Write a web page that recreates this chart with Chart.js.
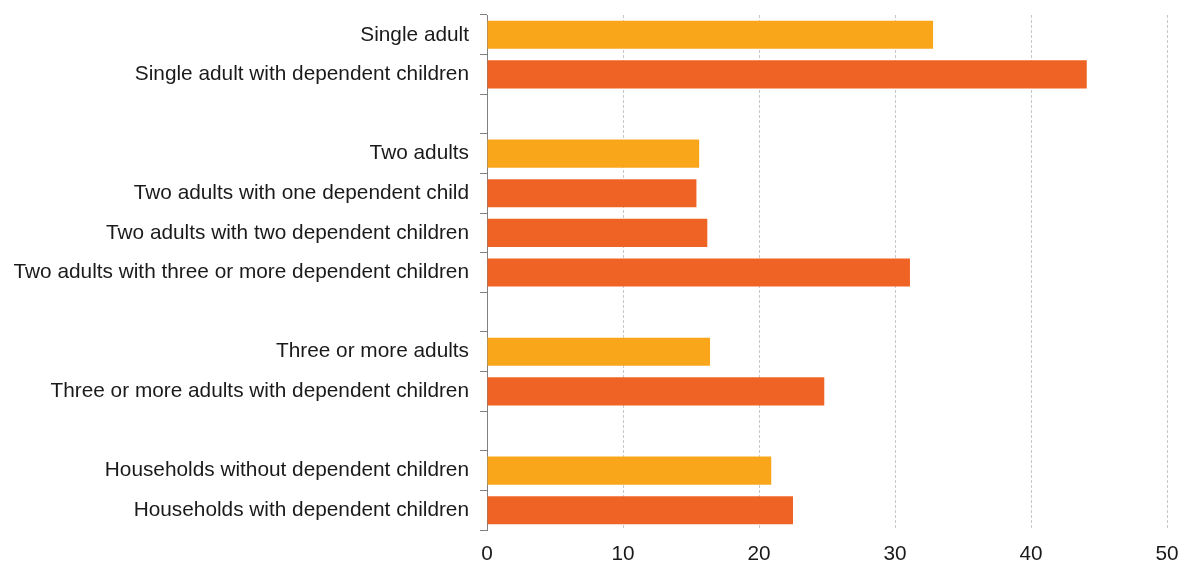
<!DOCTYPE html>
<html>
<head>
<meta charset="utf-8">
<script src="https://cdn.jsdelivr.net/npm/chart.js@4"></script>
<style>
html,body{margin:0;padding:0;background:#fff;}
#wrap{width:1181px;height:563px;position:relative;}
</style>
</head>
<body>
<div id="wrap"><canvas id="c" width="1181" height="563"></canvas></div>
<script>
const categories = [
  "Single adult",
  "Single adult with dependent children",
  "",
  "Two adults",
  "Two adults with one dependent child",
  "Two adults with two dependent children",
  "Two adults with three or more dependent children",
  "",
  "Three or more adults",
  "Three or more adults with dependent children",
  "",
  "Households without dependent children",
  "Households with dependent children"
];
const withoutChildren = [32.8, null, null, 15.6, null, null, null, null, 16.4, null, null, 20.9, null];
const withChildren    = [null, 44.1, null, null, 15.4, 16.2, 31.1, null, null, 24.8, null, null, 22.5];
const xTicks = [0, 10, 20, 30, 40, 50];

const FONT = "'Liberation Sans', Arial, sans-serif";
new Chart(document.getElementById('c'), {
  type: 'bar',
  data: {
    labels: categories,
    datasets: [
      { label: 'Without dependent children', data: withoutChildren, backgroundColor: '#F9A61B', borderWidth: 0, categoryPercentage: 0.71, barPercentage: 1 },
      { label: 'With dependent children', data: withChildren, backgroundColor: '#EF6424', borderWidth: 0, categoryPercentage: 0.71, barPercentage: 1 }
    ]
  },
  options: {
    indexAxis: 'y',
    responsive: false,
    animation: false,
    devicePixelRatio: 1,
    layout: { padding: { top: 15, right: 14, left: 0, bottom: 0 } },
    plugins: { legend: { display: false }, tooltip: { enabled: false } },
    scales: {
      x: {
        min: 0, max: 50,
        stacked: true,
        afterBuildTicks: s => { s.ticks = xTicks.map(v => ({ value: v })); },
        afterFit: s => { s.height = 33; s.paddingLeft = 0; s.paddingRight = 0; s.paddingTop = 0; s.paddingBottom = 0; },
        grid: {
          color: ctx => ctx.tick && ctx.tick.value === 0 ? 'rgba(0,0,0,0)' : '#c8c8c8',
          lineWidth: 1,
          drawTicks: false
        },
        border: { display: false, dash: [3, 2] },
        ticks: { color: '#1a1a1a', font: { family: FONT, size: 20.8 }, padding: 12 }
      },
      y: {
        stacked: true,
        afterFit: s => { s.width = 487; s.paddingLeft = 0; s.paddingRight = 0; s.paddingTop = 0; s.paddingBottom = 0; },
        grid: { display: true, drawOnChartArea: false, drawTicks: true, tickLength: 7, color: '#808080', offset: true },
        border: { display: true, color: '#808080', width: 1 },
        ticks: { color: '#1a1a1a', font: { family: FONT, size: 20.8 }, padding: 11, autoSkip: false }
      }
    }
  }
});
</script>
</body>
</html>
